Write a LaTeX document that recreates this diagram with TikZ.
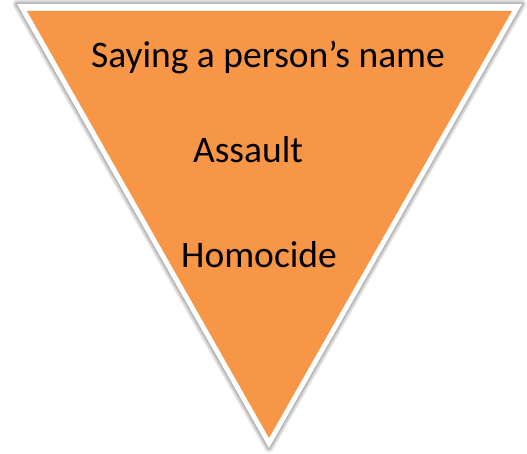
\documentclass[tikz,border=0pt]{standalone}
\usepackage{fontspec}
\setmainfont{Carlito}
\definecolor{wedgeorange}{HTML}{F79646}
\tikzset{
 rim/.style={fill=white,line join=miter},
 halo/.style={draw=black,line join=round,opacity=.07},
 wedge/.style={fill=wedgeorange},
 level/.style={font=\fontsize{37.5}{44}\selectfont,inner sep=0}
}
\begin{document}
\begin{tikzpicture}[x=1pt,y=1pt]
\path[use as bounding box,fill=white] (0,0) rectangle (527,454);
\coordinate (L) at (17,450);
\coordinate (R) at (522,450);
\coordinate (T) at (269,6);
\coordinate (l) at (27,443);
\coordinate (r) at (512,443);
\coordinate (t) at (269,16);
% soft shadow
\foreach \w in {9,7,5,3,1.5}
  \draw[halo,line width=\w pt,xshift=1pt,yshift=-1.5pt] (L) -- (R) -- (T) -- cycle;
\path[rim] (L) -- (R) -- (T) -- cycle;
\path[wedge] (l) -- (r) -- (t) -- cycle;
\node[level] (name) at (268,396) {Saying a person’s name};
\node[level] (assault) at (248,304) {Assault};
\node[level] (homocide) at (259,199) {Homocide};
\end{tikzpicture}
\end{document}
